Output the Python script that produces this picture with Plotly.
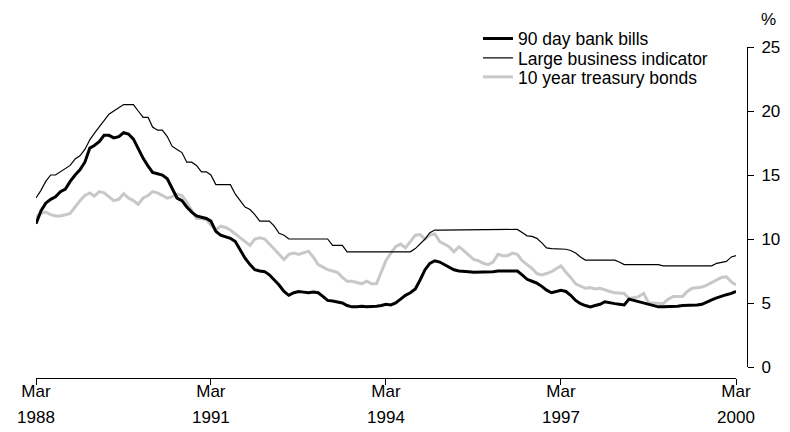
import pandas as pd
import plotly.graph_objects as go

months = pd.date_range("1988-03-01", periods=145, freq="MS")

bank_bills = [
    11.2, 12.2, 12.8, 13.1, 13.3, 13.7, 13.9, 14.5, 15.0, 15.4, 16.0, 17.1,
    17.3, 17.6, 18.1, 18.1, 17.9, 18.0, 18.3, 18.2, 17.8, 17.0, 16.3, 15.7,
    15.2, 15.1, 15.0, 14.7, 14.0, 13.2, 13.0, 12.5, 12.1, 11.8, 11.7, 11.6,
    11.4, 10.6, 10.3, 10.2, 10.05, 9.8, 9.1, 8.5, 8.0, 7.6, 7.5, 7.45,
    7.2, 6.8, 6.4, 5.9, 5.6, 5.8, 5.9, 5.85, 5.8, 5.85, 5.8, 5.5,
    5.2, 5.15, 5.1, 5.0, 4.8, 4.7, 4.7, 4.75, 4.7, 4.7, 4.75, 4.8,
    4.9, 4.85, 5.0, 5.3, 5.6, 5.8, 6.1, 6.8, 7.6, 8.1, 8.3, 8.2,
    8.0, 7.8, 7.6, 7.5, 7.5, 7.45, 7.4, 7.4, 7.4, 7.4, 7.45, 7.5,
    7.5, 7.5, 7.5, 7.5, 7.2, 6.85, 6.7, 6.55, 6.3, 6.0, 5.8, 5.9,
    6.0, 5.9, 5.6, 5.2, 4.95, 4.8, 4.7, 4.8, 4.9, 5.1, 5.0, 4.95,
    4.9, 4.85, 5.3, 5.2, 5.05, 4.95, 4.9, 4.75, 4.7, 4.7, 4.7, 4.75,
    4.75, 4.8, 4.8, 4.85, 4.85, 4.9, 5.1, 5.25, 5.4, 5.55, 5.65, 5.75,
    5.9,
]

large_business = [
    13.2, 13.8, 14.5, 15.0, 15.0, 15.25, 15.5, 15.75, 16.25, 16.5, 17.0, 17.75,
    18.25, 18.75, 19.25, 19.75, 20.0, 20.25, 20.5, 20.5, 20.5, 20.0, 19.5, 19.5,
    18.75, 18.5, 18.5, 18.0, 17.25, 17.0, 16.75, 16.0, 16.0, 15.75, 15.25, 15.25,
    15.0, 14.25, 14.25, 14.25, 14.25, 13.5, 13.0, 12.5, 12.3, 11.9, 11.4, 11.4,
    11.4, 11.0, 10.45, 10.3, 10.0, 10.0, 10.0, 10.0, 10.0, 10.0, 10.0, 10.0,
    10.0, 9.5, 9.5, 9.5, 9.0, 9.0, 9.0, 9.0, 9.0, 9.0, 9.0, 9.0,
    9.0, 9.0, 9.0, 9.0, 9.0, 9.0, 9.25, 9.6, 10.0, 10.5, 10.7, 10.7,
    10.7, 10.7, 10.7, 10.7, 10.7, 10.7, 10.7, 10.7, 10.7, 10.7, 10.7, 10.75,
    10.75, 10.75, 10.75, 10.75, 10.5, 10.25, 10.2, 10.05, 9.7, 9.3, 9.25, 9.25,
    9.25, 9.2, 9.1, 8.9, 8.6, 8.35, 8.35, 8.35, 8.35, 8.35, 8.35, 8.35,
    8.2, 8.0, 8.0, 8.0, 8.0, 8.0, 8.0, 8.0, 8.0, 7.9, 7.9, 7.9,
    7.9, 7.9, 7.9, 7.9, 7.9, 7.9, 7.9, 7.9, 8.1, 8.2, 8.25, 8.6,
    8.7,
]

treasury_10y = [
    11.7, 12.0, 12.1, 11.9, 11.8, 11.8, 11.9, 12.0, 12.5, 13.0, 13.4, 13.6,
    13.35, 13.7, 13.6, 13.3, 13.0, 13.1, 13.55, 13.2, 13.0, 12.7, 13.2, 13.4,
    13.7, 13.6, 13.4, 13.2, 13.3, 13.5, 13.4, 12.9, 12.2, 11.6, 11.6, 11.5,
    11.1, 10.7, 11.0, 10.9, 10.7, 10.4, 10.1, 9.8, 9.5, 10.0, 10.1, 10.0,
    9.6, 9.2, 8.8, 8.4, 8.8, 8.9, 8.8, 8.9, 9.05, 8.6, 8.0, 7.8,
    7.6, 7.5, 7.4, 7.0, 6.7, 6.7, 6.6, 6.5, 6.7, 6.5, 6.5, 7.5,
    8.3, 8.9, 9.4, 9.6, 9.3, 9.8, 10.3, 10.35, 10.0, 10.3, 10.4, 9.8,
    9.6, 9.4, 9.0, 9.4, 9.1, 8.75, 8.4, 8.3, 8.1, 8.0, 8.2, 8.8,
    8.7, 8.7, 8.9, 8.8, 8.3, 8.0, 7.7, 7.3, 7.2, 7.3, 7.45, 7.7,
    7.9, 7.4, 7.0, 6.5, 6.3, 6.15, 6.2, 6.1, 6.15, 6.0, 5.9, 5.8,
    5.8, 5.75, 5.35, 5.4, 5.5, 5.75, 5.0, 5.0, 5.0, 4.95, 5.3, 5.5,
    5.5, 5.5, 5.9, 6.15, 6.2, 6.25, 6.4, 6.6, 6.8, 7.0, 7.05, 6.65,
    6.4,
]

tick_dates = ["1988-03-01", "1991-03-01", "1994-03-01", "1997-03-01", "2000-03-01"]
tick_months = ["Mar", "Mar", "Mar", "Mar", "Mar"]
tick_years = ["1988", "1991", "1994", "1997", "2000"]
y_ticks = [0, 5, 10, 15, 20, 25]

FONT = "Liberation Sans"
OFF = 8  # page body margin offset

fig = go.Figure()
fig.add_trace(go.Scatter(x=months, y=treasury_10y, mode="lines", name="10 year treasury bonds",
                         line=dict(color="#c8c8c8", width=3), legend="legend3"))
fig.add_trace(go.Scatter(x=months, y=large_business, mode="lines", name="Large business indicator",
                         line=dict(color="#000000", width=1.2), legend="legend2"))
fig.add_trace(go.Scatter(x=months, y=bank_bills, mode="lines", name="90 day bank bills",
                         line=dict(color="#000000", width=3), legend="legend"))
# invisible trace carrying the year row of the date axis
fig.add_trace(go.Scatter(x=[months[0]], y=[None], xaxis="x2", showlegend=False,
                         hoverinfo="skip", mode="lines"))

W, H = 790 - OFF, 432 - OFF
L, T = 36 - OFF, 47 - OFF
pw = 711
bottom = 378 - OFF
ph = bottom - T
R = W - L - pw
B = H - bottom

def px_x(x):
    return (x - OFF - L) / pw

def px_y(y):
    return (bottom - (y - OFF)) / ph

leg_common = dict(xanchor="left", yanchor="middle", bgcolor="rgba(0,0,0,0)",
                  borderwidth=0, font=dict(family=FONT, size=17.5, color="#000000"))
lx = px_x(478)

x_range = ["1988-03-01", "2000-03-01"]
x_domain = [0, 700 / pw]

fig.update_layout(
    width=W, height=H,
    margin=dict(l=L, r=R, t=T, b=B, autoexpand=False),
    paper_bgcolor="white", plot_bgcolor="white",
    showlegend=True,
    legend=dict(x=lx, y=px_y(38.5), **leg_common),
    legend2=dict(x=lx, y=px_y(58), **leg_common),
    legend3=dict(x=lx, y=px_y(77), **leg_common),
    xaxis=dict(
        type="date", range=x_range, domain=x_domain, anchor="free", position=0,
        showline=True, linecolor="black", linewidth=1,
        ticks="outside", ticklen=6, tickcolor="black", tickwidth=1,
        tickvals=tick_dates, ticktext=tick_months,
        tickfont=dict(family=FONT, size=17, color="black"),
        ticklabelstandoff=-8,
        showgrid=False, zeroline=False,
    ),
    xaxis2=dict(
        type="date", range=x_range, domain=x_domain, anchor="free", position=0,
        overlaying="x", side="bottom",
        showline=False, ticks="",
        tickvals=tick_dates, ticktext=tick_years,
        tickfont=dict(family=FONT, size=17, color="black"),
        ticklabelstandoff=27,
        showgrid=False, zeroline=False,
    ),
    yaxis=dict(
        range=[0, 25], domain=[(bottom - (367 - OFF)) / ph, 1], side="right",
        anchor="free", position=1,
        showline=True, linecolor="black", linewidth=1,
        ticks="outside", ticklen=6, tickcolor="black", tickwidth=1,
        tickvals=y_ticks,
        tickfont=dict(family=FONT, size=17, color="black"),
        ticklabelstandoff=4,
        showgrid=False, zeroline=False,
    ),
    annotations=[dict(text="%", xref="paper", yref="paper", x=px_x(769), y=px_y(19),
                      xanchor="center", yanchor="middle", showarrow=False,
                      font=dict(family=FONT, size=17, color="black"))],
)

fig.write_html("out.html")
